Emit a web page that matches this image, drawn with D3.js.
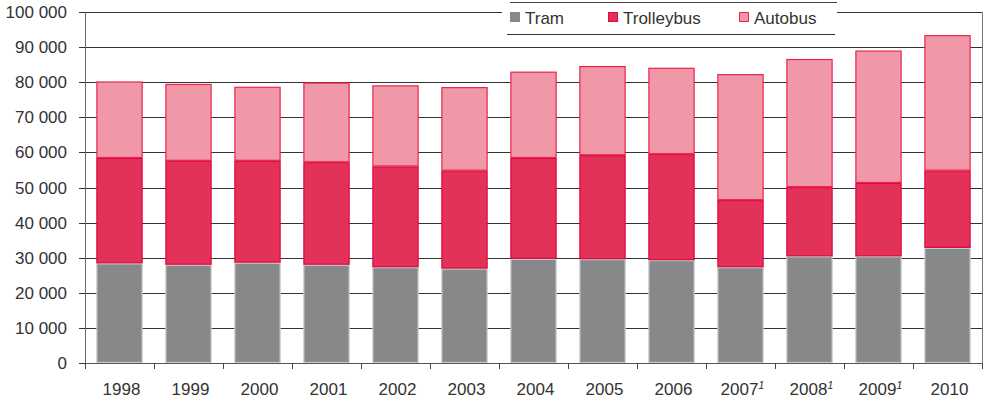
<!DOCTYPE html>
<html>
<head>
<meta charset="utf-8">
<script src="https://cdn.jsdelivr.net/npm/d3@7"></script>
<style>
body { margin: 0; background: #fff; }
text { font-family: "Liberation Sans", Arial, sans-serif; fill: #333; }
</style>
</head>
<body>
<div id="chart"></div>
<script>
var W = 992, H = 400;
var plotL = 85, plotR = 982, plotT = 12, plotB = 363;

var years = ['1998', '1999', '2000', '2001', '2002', '2003', '2004', '2005', '2006', '2007', '2008', '2009', '2010'];
var notes = ['', '', '', '', '', '', '', '', '', '1', '1', '1', ''];
var tram = [28400, 28000, 28600, 28000, 27300, 26900, 29700, 29600, 29300, 27300, 30400, 30400, 32800];
var trolleybus = [30000, 29600, 29000, 29200, 28700, 27900, 28700, 29600, 30200, 19100, 19700, 20900, 22000];
var autobus = [21800, 21900, 21100, 22700, 23100, 23800, 24600, 25400, 24600, 35900, 36500, 37700, 38600];
var seriesNames = ['Tram', 'Trolleybus', 'Autobus'];
var yTicks = [0, 10000, 20000, 30000, 40000, 50000, 60000, 70000, 80000, 90000, 100000];

var fills = { Tram: '#87888a', Trolleybus: '#e3325a', Autobus: '#f098a8' };
var strokes = { Tram: '#c8c9ca', Trolleybus: '#e2063e', Autobus: '#e8254f' };

var rows = years.map(function(y, i) {
	return { year: y, Tram: tram[i], Trolleybus: trolleybus[i], Autobus: autobus[i] };
});

var svg = d3.select('#chart').append('svg')
	.attr('width', W)
	.attr('height', H);

var x = d3.scaleBand()
	.domain(years)
	.range([plotL, plotR])
	.paddingInner(0.33)
	.paddingOuter(0.165);

var y = d3.scaleLinear()
	.domain([0, 100000])
	.range([plotB, plotT]);

var fmt = function(d) { return d3.format(',')(d).replace(/,/g, ' '); };

// gridlines
svg.append('g').selectAll('line')
	.data(yTicks.slice(1))
	.enter().append('line')
	.attr('x1', plotL).attr('x2', plotR)
	.attr('y1', function(d) { return Math.round(y(d)) + 0.5; })
	.attr('y2', function(d) { return Math.round(y(d)) + 0.5; })
	.attr('stroke', '#333')
	.attr('stroke-width', 1);

// stacked bars
var stack = d3.stack().keys(seriesNames)(rows);

svg.append('g').selectAll('g')
	.data(stack)
	.enter().append('g')
	.attr('fill', function(d) { return fills[d.key]; })
	.attr('stroke', function(d) { return strokes[d.key]; })
	.selectAll('rect')
	.data(function(d) { return d; })
	.enter().append('rect')
	.attr('x', function(d) { return x(d.data.year) + 0.5; })
	.attr('width', x.bandwidth() - 1)
	.attr('y', function(d) { return y(d[1]) + 0.5; })
	.attr('height', function(d) { return y(d[0]) - y(d[1]) - 1; })
	.attr('stroke-width', 1.2);

// left axis
var yAxis = svg.append('g');
yAxis.append('line')
	.attr('x1', plotL + 0.5).attr('x2', plotL + 0.5)
	.attr('y1', plotT).attr('y2', plotB + 1)
	.attr('stroke', '#666');
var yt = yAxis.selectAll('.yt')
	.data(yTicks)
	.enter().append('g')
	.attr('transform', function(d) { return 'translate(0,' + (Math.round(y(d)) + 0.5) + ')'; });
yt.append('line')
	.attr('x1', plotL - 6).attr('x2', plotL)
	.attr('stroke', '#333');
yt.append('text')
	.attr('x', plotL - 18)
	.attr('dy', '0.35em')
	.attr('text-anchor', 'end')
	.attr('font-size', '17px')
	.text(fmt);

// right border
svg.append('line')
	.attr('x1', plotR + 0.5).attr('x2', plotR + 0.5)
	.attr('y1', plotT).attr('y2', plotB + 1)
	.attr('stroke', '#777');

// bottom axis
var xAxis = svg.append('g');
xAxis.append('line')
	.attr('x1', plotL).attr('x2', plotR + 1)
	.attr('y1', plotB + 0.5).attr('y2', plotB + 0.5)
	.attr('stroke', '#555');
var bounds = years.map(function(d) { return x(d) - x.step() * x.paddingInner() / 2; });
bounds.push(plotR);
xAxis.selectAll('.xt')
	.data(bounds)
	.enter().append('line')
	.attr('x1', function(d) { return Math.round(d) + 0.5; })
	.attr('x2', function(d) { return Math.round(d) + 0.5; })
	.attr('y1', plotB).attr('y2', plotB + 6)
	.attr('stroke', '#444');
var xl = xAxis.selectAll('.xl')
	.data(years)
	.enter().append('text')
	.attr('x', function(d) { return x(d) + x.bandwidth() / 2 + 2; })
	.attr('y', 395)
	.attr('text-anchor', 'middle')
	.attr('font-size', '17px');
xl.append('tspan').text(function(d) { return d; });
xl.append('tspan')
	.attr('font-size', '11px')
	.attr('font-style', 'italic')
	.attr('dy', -6)
	.text(function(d, i) { return notes[i]; });

// legend
var lg = svg.append('g');
lg.append('rect')
	.attr('x', 502).attr('y', 0)
	.attr('width', 335).attr('height', 34)
	.attr('fill', '#fff');
lg.append('line')
	.attr('x1', 510).attr('x2', 837)
	.attr('y1', 2.5).attr('y2', 2.5)
	.attr('stroke', '#444');
lg.append('line')
	.attr('x1', 507).attr('x2', 835)
	.attr('y1', 34.5).attr('y2', 34.5)
	.attr('stroke', '#333');
var legX = [510, 608, 739];
var li = lg.selectAll('.li')
	.data(seriesNames)
	.enter().append('g')
	.attr('transform', function(d, i) { return 'translate(' + legX[i] + ',0)'; });
li.append('rect')
	.attr('x', 0.5).attr('y', 12.5)
	.attr('width', 9).attr('height', 9)
	.attr('fill', function(d) { return fills[d]; })
	.attr('stroke', function(d) { return d == 'Tram' ? fills[d] : strokes[d]; });
li.append('text')
	.attr('x', 15).attr('y', 24)
	.attr('font-size', '17px')
	.text(function(d) { return d; });
</script>
</body>
</html>
